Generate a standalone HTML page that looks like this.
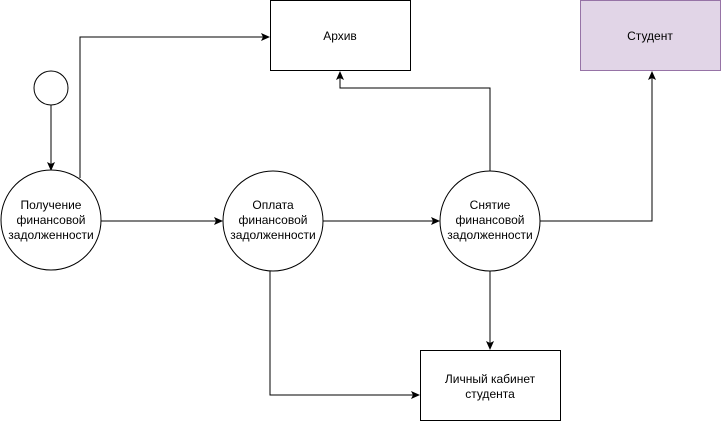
<!DOCTYPE html>
<html><head><meta charset="utf-8"><style>
body{margin:0;background:#fff;width:721px;height:421px;overflow:hidden}
text{font-family:"Liberation Sans",sans-serif;font-size:12px;fill:#000}
</style></head><body>
<svg width="721" height="421" viewBox="0 0 721 421" xmlns="http://www.w3.org/2000/svg">
<defs><marker id="a" markerWidth="10" markerHeight="10" refX="8" refY="4" orient="auto" markerUnits="userSpaceOnUse"><path d="M0,0 L9,4 L0,8 L2,4 z" fill="#000"/></marker></defs>
<g fill="none" stroke="#000" stroke-width="1">
<circle cx="51" cy="88" r="17" fill="#fff"/>
<line x1="51" y1="105" x2="51" y2="170" marker-end="url(#a)"/>
<polyline points="80,178 80,37 269,37" marker-end="url(#a)"/>
<line x1="101" y1="221" x2="222" y2="221" marker-end="url(#a)"/>
<line x1="323" y1="221" x2="439" y2="221" marker-end="url(#a)"/>
<polyline points="490,171 490,88 340,88 340,72" marker-end="url(#a)"/>
<polyline points="540,221 652,221 652,72" marker-end="url(#a)"/>
<line x1="490" y1="271" x2="490" y2="349" marker-end="url(#a)"/>
<polyline points="270,271 270,395 419,395" marker-end="url(#a)"/>
<circle cx="51" cy="220" r="50" fill="#fff"/>
<circle cx="273" cy="221" r="50" fill="#fff"/>
<circle cx="490" cy="221" r="50" fill="#fff"/>
<rect x="270.5" y="0.5" width="140" height="70" fill="#fff"/>
<rect x="580.5" y="0.5" width="140" height="70" fill="#e1d5e7" stroke="#9673a6"/>
<rect x="420.5" y="350.5" width="140" height="70" fill="#fff"/>
</g>
<g text-anchor="middle">
<text x="51" y="209">Получение</text><text x="51" y="224">финансовой</text><text x="51" y="239">задолженности</text>
<text x="273" y="209">Оплата</text><text x="273" y="224">финансовой</text><text x="273" y="239">задолженности</text>
<text x="490" y="209">Снятие</text><text x="490" y="224">финансовой</text><text x="490" y="239">задолженности</text>
<text x="340" y="40">Архив</text>
<text x="650" y="40">Студент</text>
<text x="490" y="383">Личный кабинет</text><text x="490" y="398">студента</text>
</g>
</svg>
</body></html>
